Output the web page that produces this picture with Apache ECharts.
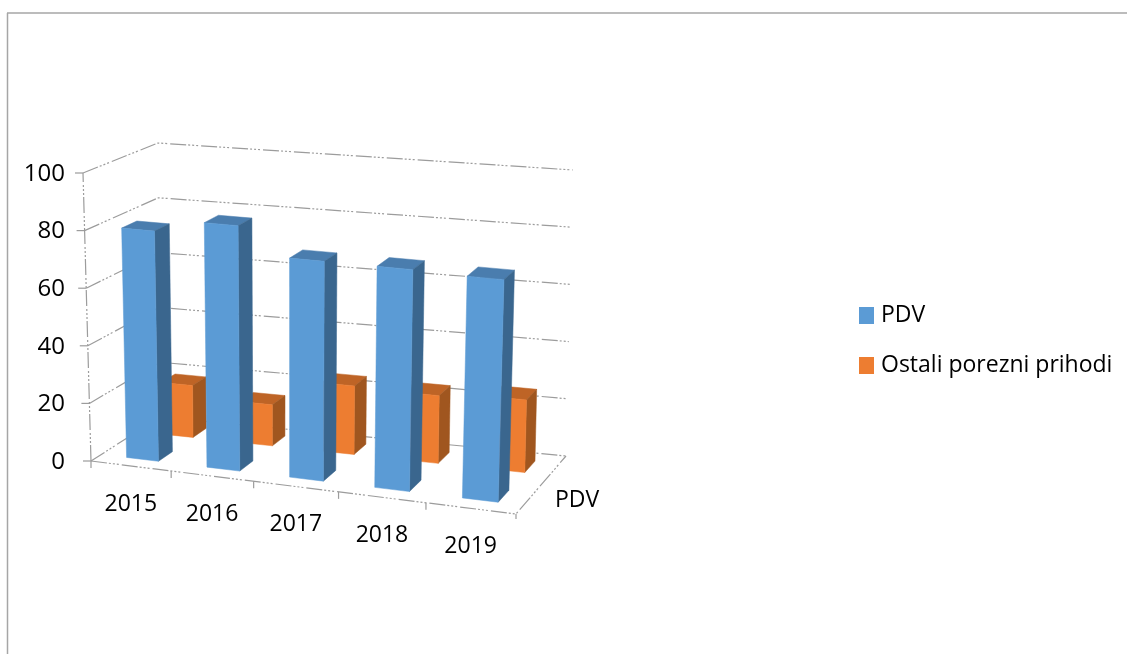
<!DOCTYPE html>
<html><head><meta charset="utf-8">
<style>html,body{margin:0;padding:0;background:#fff}#c{width:1127px;height:654px}</style>
<script src="https://cdn.jsdelivr.net/npm/echarts@6/dist/echarts.min.js"></script>
</head><body><div id="c"></div>
<script>
const years = ['2015','2016','2017','2018','2019'];
const pdv = [80, 84.5, 75, 75, 74.5];
const ostali = [18.5, 14.5, 24, 23.5, 25];
const yTicks = [0, 20, 40, 60, 80, 100];
const depthLabel = 'PDV';
const seriesNames = ['PDV', 'Ostali porezni prihodi'];

const FONT = '"Open Sans", sans-serif';
const GRID = {left: 91, top: 173, width: 426, height: 288};
// corners of the projected 3D box: [f,d,h]
const C = {
  '000':[91,461],'100':[516,514],'010':[160,417],'110':[566,456],
  '001':[83,173],'101':[525,212],'011':[158,143],'111':[573,170]
};
function warp(f){ const a = 0.93; return f*a/(1+(a-1)*f); }
function project(f,d,h){
  const g = warp(f), out = [0,0];
  for (const k in C){
    const w = (k[0]==='1'?g:1-g)*(k[1]==='1'?d:1-d)*(k[2]==='1'?h:1-h);
    out[0]+=w*C[k][0]; out[1]+=w*C[k][1];
  }
  return out;
}
function norm(api,cat,val){
  const p = api.coord([cat,val]);
  return {f:(p[0]-GRID.left)/GRID.width, h:(GRID.top+GRID.height-p[1])/GRID.height};
}
const GRIDLINE = {stroke:'#9c9c9c',lineWidth:1.2,lineDash:[16,2,2,2,2,2,2,3],fill:null};
function line(pts){ return {type:'polyline',silent:true,shape:{points:pts},style:GRIDLINE}; }
function solid(a,b){ return {type:'line',silent:true,shape:{x1:a[0],y1:a[1],x2:b[0],y2:b[1]},style:{stroke:'#9c9c9c',lineWidth:1.2}}; }
function label(t,p){ return {type:'text',silent:true,style:{text:t,x:p[0],y:p[1],fill:'#000',font:'23px '+FONT,align:'center',verticalAlign:'middle'}}; }

function wallItem(params,api){
  const n = norm(api,0,api.value(1));
  const h = n.h;
  const kids = [line([project(0,0,h),project(0,1,h),project(1,1,h)])];
  const a = project(0,0,h);
  kids.push(solid([a[0]-8,a[1]],a));
  if (h===0){
    kids.push(line([project(0,0,0),project(1,0,0),project(1,1,0)]));
    kids.push(line([project(0,0,0),project(0,0,1)]));
  }
  return {type:'group',children:kids};
}
function catItem(params,api){
  const i = api.value(0), n = norm(api,i,0), half = api.size([1,0])[0]/2/GRID.width;
  const kids = [];
  const a = project(n.f-half,0,0);
  kids.push(solid(a,[a[0],a[1]+7]));
  const mid = project(n.f,0,0);
  kids.push(label(years[i],[mid[0],mid[1]+38]));
  if (i===years.length-1){
    const e = project(n.f+half,0,0);
    kids.push(solid(e,[e[0],e[1]+5]));
    const q = project(1,0.5,0);
    kids.push(label(depthLabel,[q[0]+36,q[1]+15]));
  }
  return {type:'group',children:kids};
}
function barRenderer(d0,d1,front,side,top){
  return function(params,api){
    const i = api.value(0), n = norm(api,i,api.value(1)), b = api.size([1,0])[0]/GRID.width;
    const f0 = n.f-b*0.18, f1 = n.f+b*0.22;
    const poly = (pts,c)=>({type:'polygon',silent:true,shape:{points:pts},style:{fill:c,stroke:c,lineWidth:0.5}});
    return {type:'group',children:[
      poly([project(f0,d0,n.h),project(f1,d0,n.h),project(f1,d1,n.h),project(f0,d1,n.h)],top),
      poly([project(f1,d0,0),project(f1,d1,0),project(f1,d1,n.h),project(f1,d0,n.h)],side),
      poly([project(f0,d0,0),project(f1,d0,0),project(f1,d0,n.h),project(f0,d0,n.h)],front)
    ]};
  };
}
const chart = echarts.init(document.getElementById('c'),null,{renderer:'canvas'});
chart.setOption({
  animation:false,
  backgroundColor:'#fff',
  grid:Object.assign({containLabel:false},GRID),
  xAxis:{type:'category',data:years,show:false},
  yAxis:{type:'value',min:0,max:100,interval:20,
    axisLine:{show:false},axisTick:{show:false},splitLine:{show:false},
    axisLabel:{margin:26,color:'#000',fontFamily:FONT,fontSize:24,verticalAlign:'top',padding:[-11,0,0,0]}},
  legend:{orient:'vertical',left:859,top:304,padding:0,itemWidth:15,itemHeight:17,itemGap:27,icon:'rect',
    selectedMode:false,data:seriesNames,textStyle:{color:'#000',fontFamily:FONT,fontSize:23,padding:[0,0,0,2]}},
  graphic:[
    {type:'line',silent:true,shape:{x1:7.5,y1:13,x2:7.5,y2:654},style:{stroke:'#a6a6a6',lineWidth:1.5}},
    {type:'line',silent:true,shape:{x1:7,y1:13,x2:1127,y2:13},style:{stroke:'#a6a6a6',lineWidth:1.5}}
  ],
  series:[
    {type:'custom',name:'walls',renderItem:wallItem,silent:true,data:yTicks.map(v=>[0,v]),encode:{x:0,y:1}},
    {type:'custom',name:'cats',renderItem:catItem,silent:true,data:years.map((y,i)=>[i,0]),encode:{x:0,y:1}},
    {type:'custom',name:seriesNames[1],itemStyle:{color:'#ED7D31'},silent:true,
      renderItem:barRenderer(0.67,0.87,'#ED7D31','#A0561F','#BE6426'),
      data:ostali.map((v,i)=>[i,v]),encode:{x:0,y:1}},
    {type:'custom',name:seriesNames[0],itemStyle:{color:'#5B9BD5'},silent:true,
      renderItem:barRenderer(0.15,0.36,'#5B9BD5','#3A668E','#4A7DAE'),
      data:pdv.map((v,i)=>[i,v]),encode:{x:0,y:1}}
  ]
});
</script></body></html>
